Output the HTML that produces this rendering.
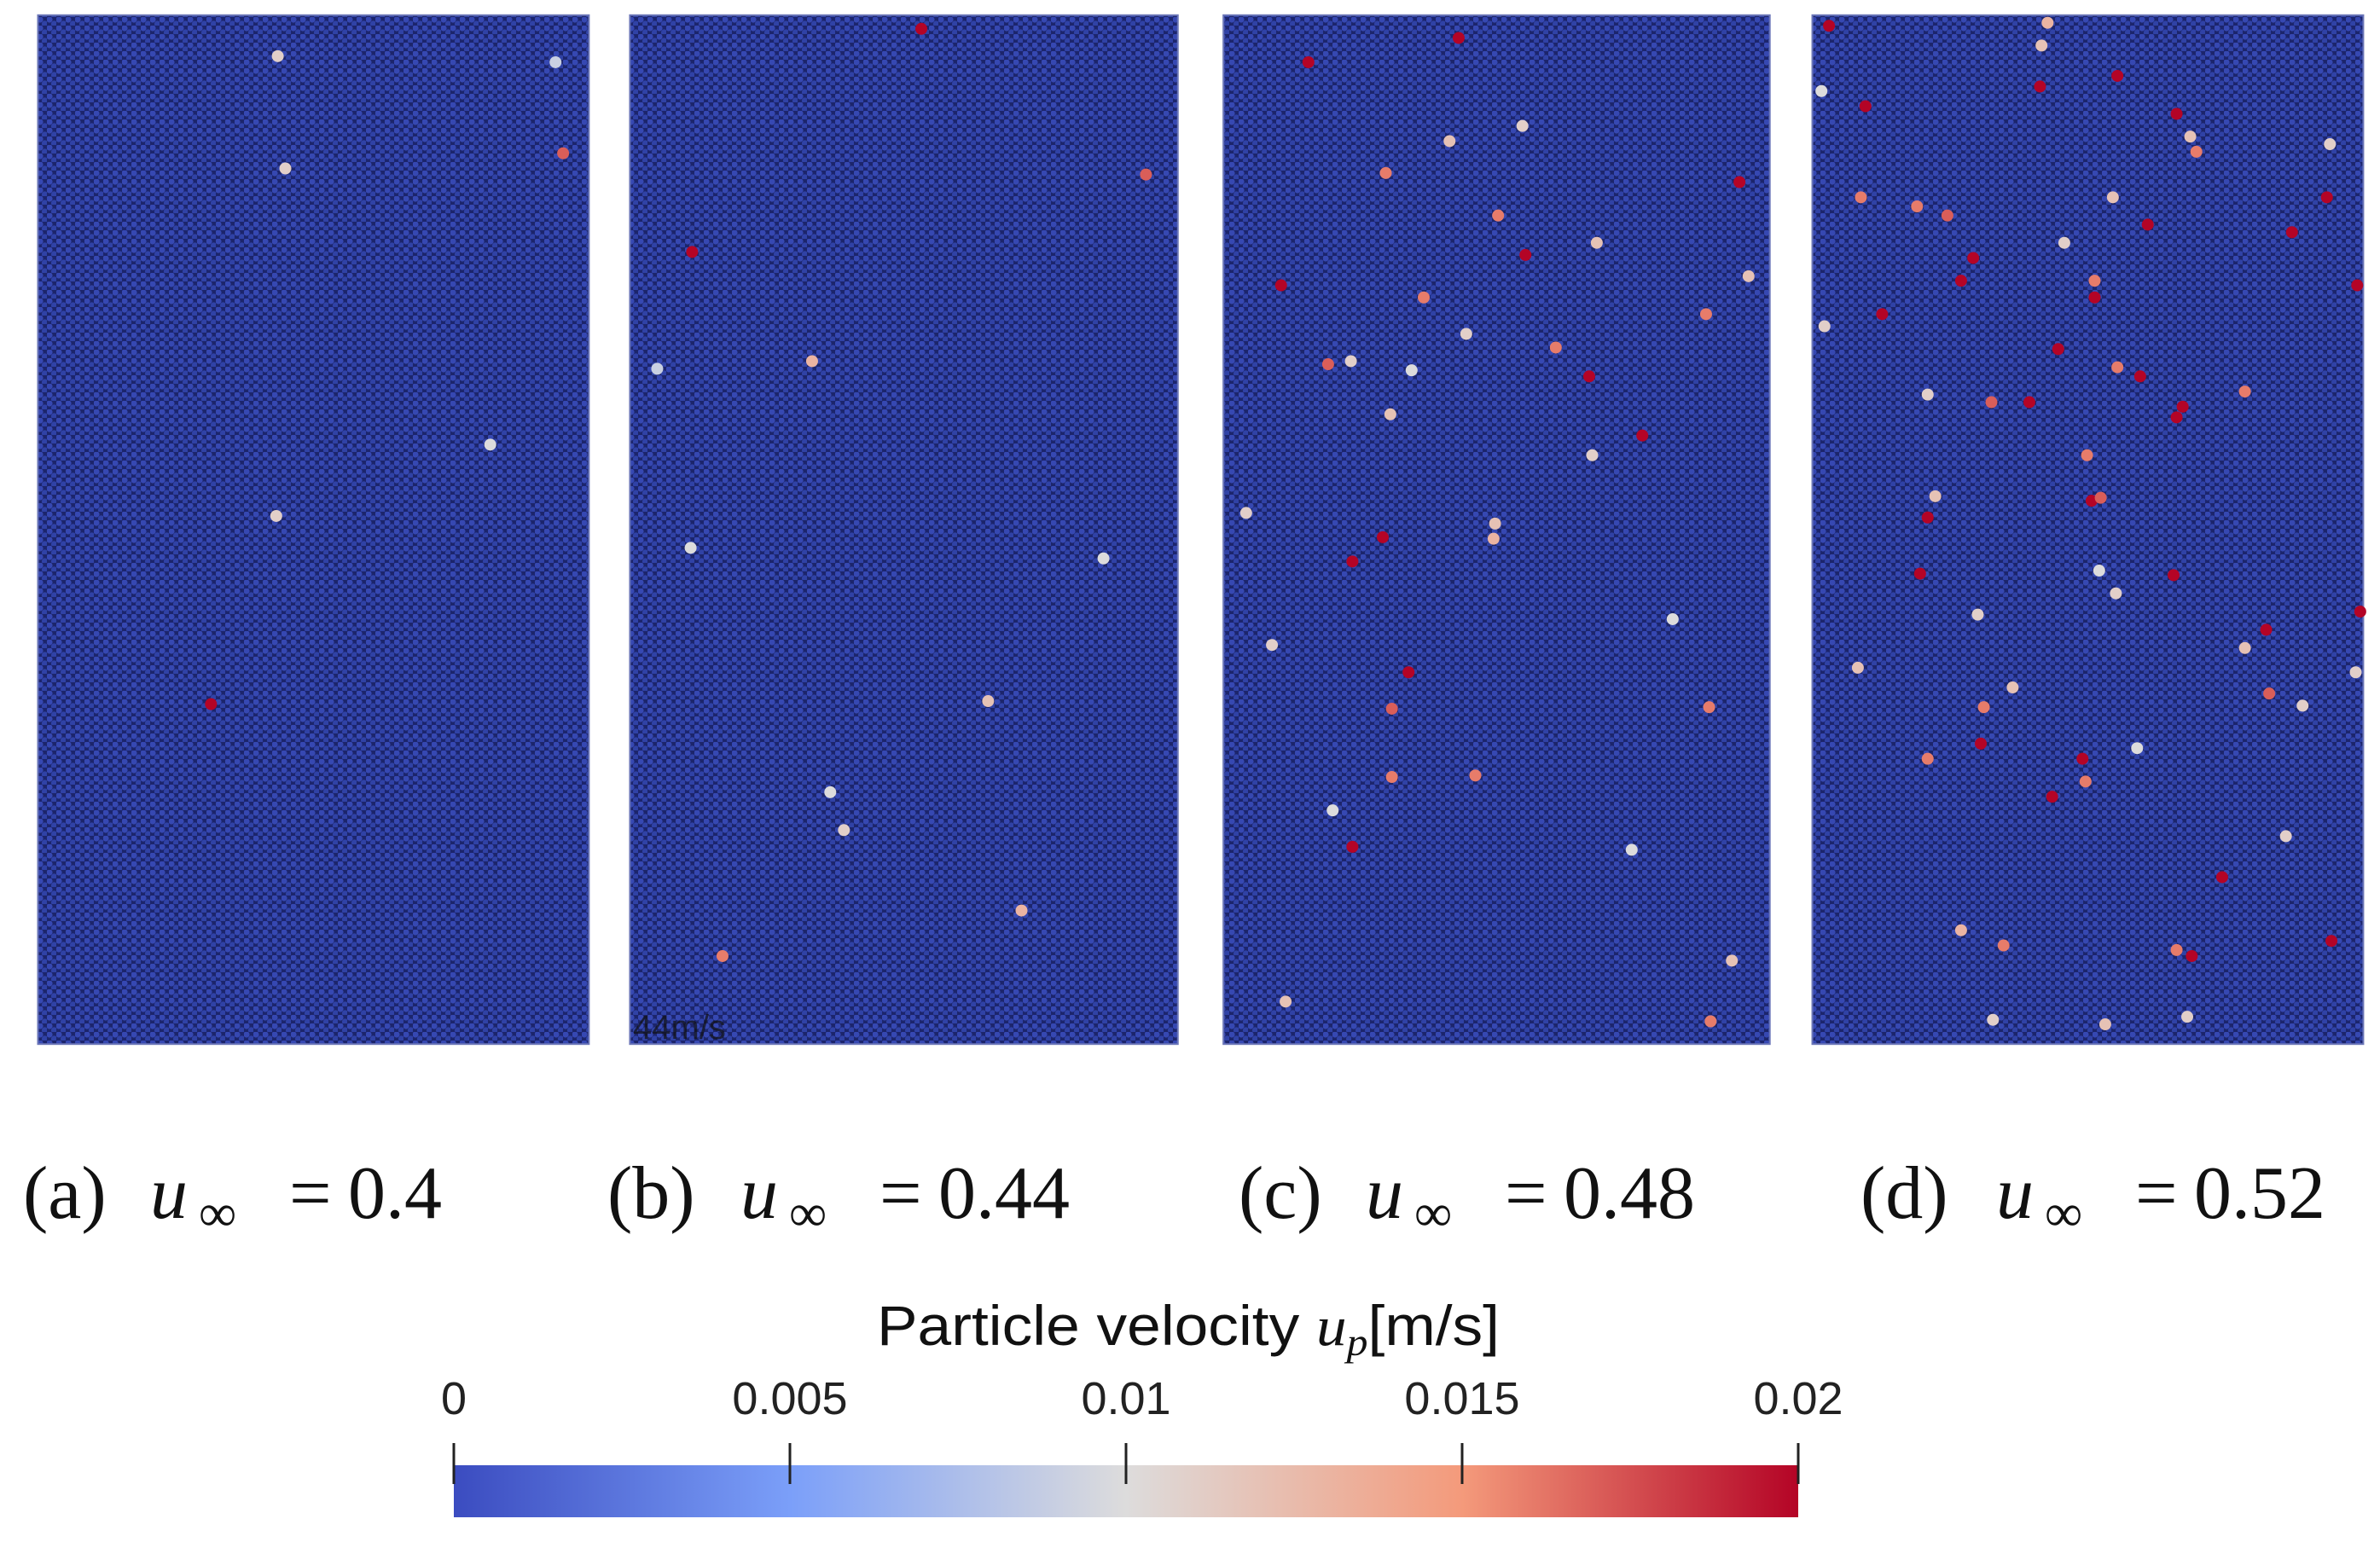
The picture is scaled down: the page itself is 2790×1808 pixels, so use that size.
<!DOCTYPE html>
<html><head><meta charset="utf-8">
<style>
html,body{margin:0;padding:0;background:#fff;}
body{width:2790px;height:1808px;position:relative;overflow:hidden;}
svg{position:absolute;left:0;top:0;}
</style></head>
<body>
<svg id="fig" width="2790" height="1808" viewBox="0 0 2790 1808" xmlns="http://www.w3.org/2000/svg">
<defs>
<pattern id="grains" width="11" height="10" patternUnits="userSpaceOnUse">
<rect width="11" height="10" fill="#1c256c"/>
<circle cx="3" cy="3" r="3.6" fill="#3648b2"/>
<circle cx="8.5" cy="8" r="3.6" fill="#3042a6"/>
</pattern>
<linearGradient id="cmap" x1="0" x2="1" y1="0" y2="0">
<stop offset="0" stop-color="#3b4cc0"/>
<stop offset="0.25" stop-color="#7b9ff9"/>
<stop offset="0.5" stop-color="#dddcdc"/>
<stop offset="0.75" stop-color="#f49a7b"/>
<stop offset="1" stop-color="#b40426"/>
</linearGradient>
</defs>
<g id="panels"></g>
<g id="labels" font-family="'Liberation Serif',serif" font-size="88" fill="#111">
<g><text x="27" y="1428">(a)</text><text x="176" y="1428" font-style="italic">u</text><text x="233" y="1443" font-size="62">∞</text><text x="339" y="1428">=</text><text x="408" y="1428">0.4</text></g>
<g><text x="712" y="1428">(b)</text><text x="868" y="1428" font-style="italic">u</text><text x="925" y="1443" font-size="62">∞</text><text x="1031" y="1428">=</text><text x="1100" y="1428">0.44</text></g>
<g><text x="1452" y="1428">(c)</text><text x="1601" y="1428" font-style="italic">u</text><text x="1658" y="1443" font-size="62">∞</text><text x="1764" y="1428">=</text><text x="1833" y="1428">0.48</text></g>
<g><text x="2181" y="1428">(d)</text><text x="2340" y="1428" font-style="italic">u</text><text x="2397" y="1443" font-size="62">∞</text><text x="2503" y="1428">=</text><text x="2572" y="1428">0.52</text></g>
</g>
<text x="742" y="1218" font-family="'Liberation Sans',sans-serif" font-size="40" fill="#111" opacity="0.7">44m/s</text>
<g id="colorbar">
<text x="1028" y="1577" textLength="730" lengthAdjust="spacingAndGlyphs" font-family="'Liberation Sans',sans-serif" font-size="66" fill="#111">Particle velocity <tspan font-family="'Liberation Serif',serif" font-style="italic">u</tspan><tspan font-family="'Liberation Serif',serif" font-style="italic" font-size="46" dy="12">p</tspan><tspan dy="-12">[m/s]</tspan></text>
<rect x="532" y="1718" width="1576" height="61" fill="url(#cmap)"/>
<g id="cbticks"></g>
</g>
</svg>
<script>
const NS="http://www.w3.org/2000/svg";
// colorbar data
const cbTicks=[0,0.005,0.01,0.015,0.02];
const cbTickLabels=["0","0.005","0.01","0.015","0.02"];
const vMin=0, vMax=0.02;
// panel extents (figure units, scaled by S)
const panelNames=["panel-a","panel-b","panel-c","panel-d"];
const panelX0=[25,415,806,1194];
const panelX1=[388,776,1166,1557];
// particle data per panel: x, y (figure units), velocity (m/s)
const aX=[183,366,188,371,323,182,139];
const aY=[37,41,111,101,293,340,464];
const aV=[0.011,0.009,0.011,0.017,0.010,0.011,0.02];
const bX=[607,755,456,535,651,673,476,556,547,727,455,433];
const bY=[19,115,166,238,462,600,630,547,522,368,361,243];
const bV=[0.02,0.017,0.02,0.013,0.012,0.013,0.016,0.011,0.010,0.010,0.010,0.009];
const cX=[961,862,1146,844,1005,1047,1082,911,891,928,891,913,987,938,875,1025,1124,917,917,972,1126,1127,984,955,1003,1052,1152,966,930,890,916,1049,821,985,1102,838,878,1141,847,1075];
const cY=[25,41,120,188,168,248,287,354,370,443,558,114,142,196,240,229,207,467,512,511,466,673,355,93,83,160,182,220,244,238,273,300,338,345,408,425,534,633,660,560];
const cV=[0.02,0.02,0.02,0.02,0.02,0.02,0.02,0.02,0.02,0.02,0.02,0.016,0.016,0.016,0.017,0.016,0.016,0.017,0.016,0.016,0.016,0.016,0.013,0.012,0.011,0.012,0.012,0.011,0.010,0.011,0.012,0.011,0.011,0.012,0.010,0.011,0.010,0.012,0.012,0.010];
const dX=[1205,1229,1395,1344,1434,1533,1415,1510,1300,1292,1240,1380,1356,1410,1438,1434,1337,1270,1378,1265,1432,1493,1305,1372,1352,1464,1444,1553,1555,1536,1226,1263,1283,1447,1380,1395,1312,1479,1375,1384,1270,1307,1374,1495,1320,1434,1349,1345,1443,1535,1392,1360,1202,1270,1275,1303,1394,1479,1224,1326,1517,1408,1383,1506,1292,1387,1313,1441,1552,1200];
const dY=[17,70,50,57,75,130,148,153,170,185,207,196,230,248,268,275,265,341,330,378,379,415,490,500,525,578,630,188,403,620,130,136,142,100,185,242,265,258,300,328,500,466,515,457,623,626,15,30,90,95,130,160,215,260,327,405,391,427,440,453,465,493,376,551,613,675,672,670,443,60];
const dV=[0.02,0.02,0.02,0.02,0.02,0.02,0.02,0.02,0.02,0.02,0.02,0.02,0.02,0.02,0.02,0.02,0.02,0.02,0.02,0.02,0.02,0.02,0.02,0.02,0.02,0.02,0.02,0.02,0.02,0.02,0.016,0.016,0.017,0.016,0.016,0.016,0.017,0.016,0.016,0.017,0.016,0.016,0.016,0.017,0.016,0.016,0.013,0.012,0.012,0.011,0.012,0.011,0.011,0.011,0.012,0.011,0.011,0.012,0.012,0.012,0.011,0.010,0.010,0.011,0.013,0.012,0.011,0.011,0.011,0.010];
const panelXs=[aX,bX,cX,dX], panelYs=[aY,bY,cY,dY], panelVs=[aV,bV,cV,dV];

const S=2790/1568;
const PY0=10, PY1=688;
const sx=v=>v*S, sy=v=>v*S;
const stops=[[59,76,192],[123,159,249],[221,220,220],[244,154,123],[180,4,38]];
function cmap(v){let t=Math.max(0,Math.min(1,(v-vMin)/(vMax-vMin)))*4;let i=Math.min(3,Math.floor(t)),f=t-i;
const c=stops[i].map((a,k)=>Math.round(a+(stops[i+1][k]-a)*f));return `rgb(${c})`;}
const cbX=v=>532+(v-vMin)/(vMax-vMin)*1576;

const pg=document.getElementById('panels');
for(let p=0;p<4;p++){
  const g=document.createElementNS(NS,'g');
  
  
  const r=document.createElementNS(NS,'rect');
  r.setAttribute('x',sx(panelX0[p]));r.setAttribute('y',sy(PY0));
  r.setAttribute('width',sx(panelX1[p])-sx(panelX0[p]));r.setAttribute('height',sy(PY1)-sy(PY0));
  r.setAttribute('fill','url(#grains)');r.setAttribute('stroke','#6b76b8');r.setAttribute('stroke-width','2');
  
  
  g.appendChild(r);
  const X=panelXs[p],Y=panelYs[p],V=panelVs[p];
  for(let i=0;i<X.length;i++){
    const c=document.createElementNS(NS,'circle');
    c.setAttribute('cx',sx(X[i]));c.setAttribute('cy',sy(Y[i]));c.setAttribute('r',7);
    c.setAttribute('fill',cmap(V[i]));
    
    
    g.appendChild(c);
  }
  pg.appendChild(g);
}
const tg=document.getElementById('cbticks');
cbTicks.forEach((t,i)=>{
  const l=document.createElementNS(NS,'line');
  l.setAttribute('x1',cbX(t));l.setAttribute('x2',cbX(t));l.setAttribute('y1',1692);l.setAttribute('y2',1740);
  l.setAttribute('stroke','#222');l.setAttribute('stroke-width','3');
  
  
  tg.appendChild(l);
  const tx=document.createElementNS(NS,'text');
  tx.setAttribute('x',cbX(t));tx.setAttribute('y',1658);tx.setAttribute('text-anchor','middle');
  tx.setAttribute('font-family',"'Liberation Sans',sans-serif");tx.setAttribute('font-size','54');tx.setAttribute('fill','#222');
  tx.textContent=cbTickLabels[i];
  
  
  tg.appendChild(tx);
});
</script>
</body></html>
